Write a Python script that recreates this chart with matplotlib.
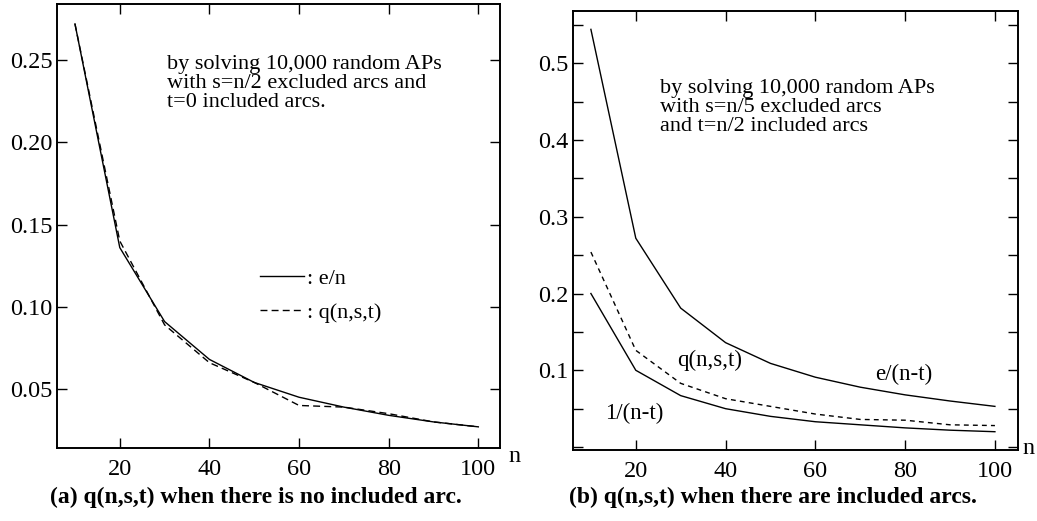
import numpy as np
import matplotlib
matplotlib.use('Agg')
import matplotlib.pyplot as plt

# values
n = [10, 20, 30, 40, 50, 60, 70, 80, 90, 100]

# (a) no included arcs
a_en = [0.272, 0.136, 0.091, 0.068, 0.054, 0.045, 0.039, 0.034, 0.030, 0.027]
a_q = [0.272, 0.140, 0.089, 0.066, 0.054, 0.040, 0.039, 0.035, 0.030, 0.027]

# (b) with included arcs
b_ent = [0.544, 0.272, 0.181, 0.136, 0.109, 0.091, 0.078, 0.068, 0.060, 0.053]
b_q = [0.254, 0.126, 0.083, 0.063, 0.053, 0.043, 0.036, 0.035, 0.029, 0.028]
b_1nt = [0.200, 0.100, 0.067, 0.050, 0.040, 0.033, 0.029, 0.025, 0.022, 0.020]

x_ticks = [20, 40, 60, 80, 100]
a_yticks = [0.05, 0.10, 0.15, 0.20, 0.25]
a_ylabels = ['0.05', '0.10', '0.15', '0.20', '0.25']
b_yticks = [0.1, 0.2, 0.3, 0.4, 0.5]
b_yminor = [0.0, 0.05, 0.15, 0.25, 0.35, 0.45, 0.55]

plt.rcParams['font.family'] = ['Liberation Serif', 'DejaVu Serif']

fig = plt.figure(figsize=(10.37, 5.21), dpi=100)
ax1 = fig.add_axes([0.055, 0.140, 0.427, 0.852])
ax2 = fig.add_axes([0.5525, 0.136, 0.429, 0.843])


def style(ax):
    ax.tick_params(which='both', direction='in', top=True, right=True,
                   length=7, width=1, labelsize=17.5, pad=3)
    ax.tick_params(axis='x', pad=8)
    for s in ax.spines.values():
        s.set_linewidth(1.4)
    ax.set_xticks(x_ticks)
    ax.set_xlim(6, 104.8)


# -=-=- panel (a) -=-=-
ax1.plot(n, a_en, color='black', lw=1.0, label=': e/n')
ax1.plot(n, a_q, color='black', lw=1.0, ls=(0, (5, 3)), label=': q(n,s,t)')
style(ax1)
ax1.set_yticks(a_yticks)
ax1.set_yticklabels(a_ylabels)
ax1.set_ylim(0.0141, 0.284)
ax1.text(0.249, 0.886, 'by solving 10,000 random APs\nwith s=n/2 excluded arcs and\nt=0 included arcs.',
         transform=ax1.transAxes, fontsize=16, va='top', ha='left', linespacing=1.0)
ax1.legend(loc='upper left', bbox_to_anchor=(0.458, 0.405), frameon=False, fontsize=16,
           handlelength=2.0, handletextpad=0.1, labelspacing=0.6, borderpad=0, borderaxespad=0)
fig.text(515 / 1037, 1 - 457 / 521, 'n', fontsize=17.5, ha='center', va='center')
fig.text(256 / 1037, 1 - 497 / 521, '(a) q(n,s,t) when there is no included arc.',
         fontsize=17, fontweight='bold', ha='center', va='center')

# -=-=- panel (b) -=-=-
ax2.plot(n, b_ent, color='black', lw=1.0)
ax2.plot(n, b_q, color='black', lw=1.0, ls=(0, (3.5, 3)))
ax2.plot(n, b_1nt, color='black', lw=1.0)
style(ax2)
ax2.set_xlim(6, 105.1)
ax2.set_yticks(b_yticks)
ax2.set_yticks(b_yminor, minor=True)
ax2.set_ylim(-0.004, 0.568)
ax2.text(0.195, 0.846, 'by solving 10,000 random APs\nwith s=n/5 excluded arcs\nand t=n/2 included arcs',
         transform=ax2.transAxes, fontsize=16, va='top', ha='left', linespacing=1.0)
ax2.text(29.2, 0.113, 'q(n,s,t)', fontsize=16.5, ha='left', va='center')
ax2.text(73.3, 0.094, 'e/(n-t)', fontsize=16.5, ha='left', va='center')
ax2.text(13.1, 0.044, '1/(n-t)', fontsize=16.5, ha='left', va='center')
fig.text(1029 / 1037, 1 - 448 / 521, 'n', fontsize=17.5, ha='center', va='center')
fig.text(773 / 1037, 1 - 497 / 521, '(b) q(n,s,t) when there are included arcs.',
         fontsize=17, fontweight='bold', ha='center', va='center')

fig.savefig('out.png', dpi=100)
